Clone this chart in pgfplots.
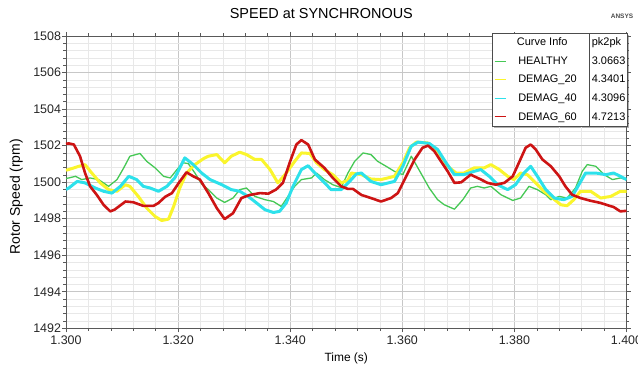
\documentclass[border=0pt]{standalone}
\usepackage{fontspec}
\setmainfont{Liberation Sans}
\usepackage{pgfplots}
\pgfplotsset{compat=1.18}
\usetikzlibrary{backgrounds}
\definecolor{cHealthy}{RGB}{70,200,85}
\definecolor{cDtwenty}{RGB}{250,245,45}
\definecolor{cDforty}{RGB}{45,225,235}
\definecolor{cDsixty}{RGB}{205,20,20}
\newcommand{\lsep}{{\color{black!70}\rule[-6.05bp]{0.6pt}{18.6bp}}}
\newcommand{\lrow}[2]{\makebox[71bp][l]{#1}\lsep\hspace{2bp}#2}
\begin{document}
\begin{tikzpicture}
\path[use as bounding box] (-66bp,-38.7bp) rectangle (572bp,328.3bp);
\begin{axis}[
  at={(0,0)}, anchor=south west,
  scale only axis, width=560.5bp, height=292.3bp,
  xmin=1.3, xmax=1.4, ymin=1492, ymax=1508,
  xtick={1.3,1.32,1.34,1.36,1.38,1.4},
  ytick={1492,1494,1496,1498,1500,1502,1504,1506,1508},
  minor x tick num=4, minor y tick num=4,
  grid=both,
  major grid style={color=black!22, line width=0.6bp},
  minor grid style={color=black!9, line width=0.5bp},
  tick align=outside, major tick length=4bp, minor tick length=2.5bp,
  axis line style={black!65, line width=0.8bp},
  every tick/.style={black!65, line width=0.6bp},
  tick label style={font=\fontsize{12.5}{14}\selectfont, color=black!85},
  /pgf/number format/assume math mode=true,
  yticklabel style={/pgf/number format/1000 sep={}, xshift=2.5bp},
  xticklabel style={/pgf/number format/.cd, fixed, fixed zerofill, precision=3},
  scaled x ticks=false, scaled y ticks=false,
  title={SPEED at SYNCHRONOUS},
  title style={at={(axis description cs:0.4556,1)}, anchor=base, yshift=11.8bp, font=\fontsize{14.5}{16}\selectfont},
  xlabel={Time (s)},
  xlabel style={at={(axis description cs:0.5,0)}, anchor=base, yshift=-33bp, font=\fontsize{12}{14}\selectfont},
  ylabel={Rotor Speed (rpm)},
  ylabel style={at={(axis description cs:-0.0821,0.45)}, anchor=base, font=\fontsize{14}{16}\selectfont},
  legend style={at={(axis description cs:1.001,1.0103)}, anchor=north east, name=leg,
    draw=black!70, fill=white, font=\fontsize{11}{13}\selectfont,
    inner xsep=1.5bp, inner ysep=0pt, row sep=0pt, column sep=12bp,
    cells={anchor=west},
    nodes={text height=10.5bp, text depth=4bp, inner ysep=2.05bp, inner xsep=0pt}},
  legend image code/.code={\draw[#1,line width=1.1bp] (0bp,0bp) -- (11bp,0bp);},
  clip=true,
]
\addlegendimage{empty legend}
\addlegendentry{\hspace*{-23bp}\makebox[94bp][c]{Curve Info}\lsep\hspace{2bp}pk2pk}

% HEALTHY
\addplot[color=cHealthy, line width=1.3bp, line join=round] coordinates {
(1.3000,1500.20)(1.3005,1500.23)(1.3017,1500.32)(1.3028,1500.14)(1.3043,1500.23)(1.3058,1500.14)
(1.3076,1499.77)(1.3091,1500.14)(1.3103,1500.78)(1.3114,1501.42)(1.3132,1501.57)(1.3144,1501.14)
(1.3159,1500.78)(1.3174,1500.32)(1.3186,1500.23)(1.3198,1500.69)(1.3209,1501.06)(1.3218,1501.02)
(1.3230,1500.50)(1.3242,1499.90)(1.3254,1499.59)(1.3269,1499.13)(1.3283,1498.89)(1.3298,1499.13)
(1.3310,1499.59)(1.3322,1499.68)(1.3337,1499.22)(1.3355,1499.04)(1.3370,1498.94)(1.3384,1498.67)
(1.3396,1499.22)(1.3408,1499.77)(1.3420,1500.14)(1.3438,1500.23)(1.3447,1500.50)(1.3461,1500.14)
(1.3476,1499.86)(1.3491,1499.70)(1.3503,1500.50)(1.3515,1501.14)(1.3530,1501.60)(1.3544,1501.51)
(1.3556,1501.14)(1.3571,1500.87)(1.3586,1500.59)(1.3601,1500.41)(1.3616,1501.42)(1.3633,1500.50)
(1.3648,1499.68)(1.3663,1499.04)(1.3675,1498.76)(1.3693,1498.52)(1.3708,1499.04)(1.3722,1499.68)
(1.3734,1499.77)(1.3746,1499.68)(1.3758,1499.77)(1.3776,1499.31)(1.3797,1499.00)(1.3811,1499.13)
(1.3826,1499.77)(1.3841,1499.59)(1.3856,1499.31)(1.3865,1499.04)(1.3880,1499.22)(1.3894,1499.13)
(1.3909,1499.68)(1.3921,1500.59)(1.3930,1500.96)(1.3945,1500.87)(1.3960,1500.41)(1.3975,1500.14)
(1.3989,1500.23)(1.4000,1500.14)
};
\addlegendentry{\lrow{HEALTHY}{3.0663}}

% DEMAG_20
\addplot[color=cDtwenty, line width=3bp, line join=round] coordinates {
(1.3000,1500.65)(1.3005,1500.69)(1.3020,1500.84)(1.3034,1500.96)(1.3046,1500.50)(1.3061,1499.96)
(1.3076,1499.59)(1.3091,1499.50)(1.3106,1499.86)(1.3114,1499.77)(1.3129,1499.22)(1.3144,1498.58)
(1.3159,1498.12)(1.3171,1497.90)(1.3183,1497.98)(1.3192,1498.67)(1.3203,1499.68)(1.3215,1500.50)
(1.3230,1500.96)(1.3245,1501.28)(1.3254,1501.42)(1.3269,1501.51)(1.3283,1501.06)(1.3295,1501.42)
(1.3310,1501.64)(1.3322,1501.51)(1.3337,1501.24)(1.3349,1501.24)(1.3364,1500.69)(1.3378,1499.96)
(1.3393,1500.50)(1.3408,1501.14)(1.3420,1501.60)(1.3435,1501.57)(1.3447,1501.06)(1.3461,1500.69)
(1.3476,1500.41)(1.3491,1499.96)(1.3503,1500.10)(1.3509,1500.50)(1.3527,1500.41)(1.3544,1500.17)
(1.3562,1500.14)(1.3586,1500.32)(1.3601,1501.06)(1.3613,1501.88)(1.3625,1502.19)(1.3645,1502.15)
(1.3663,1501.70)(1.3681,1500.87)(1.3696,1500.50)(1.3710,1500.50)(1.3728,1500.78)(1.3746,1500.78)
(1.3758,1500.96)(1.3773,1500.69)(1.3788,1500.32)(1.3799,1500.14)(1.3811,1500.50)(1.3823,1500.41)
(1.3838,1499.96)(1.3853,1499.50)(1.3868,1499.13)(1.3883,1498.76)(1.3894,1498.71)(1.3906,1499.04)
(1.3918,1499.50)(1.3936,1499.50)(1.3954,1499.13)(1.3972,1499.22)(1.3989,1499.50)(1.4000,1499.50)
};
\addlegendentry{\lrow{DEMAG\_20}{4.3401}}

% DEMAG_40
\addplot[color=cDforty, line width=3bp, line join=round] coordinates {
(1.3000,1499.60)(1.3005,1499.68)(1.3020,1500.04)(1.3034,1499.96)(1.3052,1499.68)(1.3067,1499.50)
(1.3082,1499.40)(1.3097,1499.77)(1.3112,1500.32)(1.3126,1500.14)(1.3138,1499.77)(1.3150,1499.68)
(1.3165,1499.50)(1.3180,1499.77)(1.3194,1500.23)(1.3212,1501.33)(1.3227,1500.96)(1.3242,1500.50)
(1.3257,1500.14)(1.3278,1499.86)(1.3295,1499.59)(1.3310,1499.50)(1.3325,1499.22)(1.3340,1498.86)
(1.3355,1498.49)(1.3370,1498.34)(1.3381,1498.40)(1.3393,1498.86)(1.3405,1499.77)(1.3420,1500.69)
(1.3432,1500.90)(1.3444,1500.50)(1.3459,1500.04)(1.3473,1499.59)(1.3491,1499.59)(1.3506,1500.04)
(1.3518,1500.45)(1.3527,1500.50)(1.3544,1500.04)(1.3562,1499.86)(1.3586,1500.04)(1.3601,1500.87)
(1.3616,1501.97)(1.3628,1502.19)(1.3648,1502.12)(1.3663,1501.79)(1.3678,1501.06)(1.3693,1500.41)
(1.3710,1500.41)(1.3728,1500.59)(1.3740,1500.69)(1.3755,1500.32)(1.3770,1499.86)(1.3788,1499.59)
(1.3802,1499.86)(1.3817,1500.50)(1.3829,1500.87)(1.3841,1500.32)(1.3856,1499.59)(1.3871,1499.13)
(1.3888,1499.04)(1.3903,1499.22)(1.3915,1499.86)(1.3927,1500.50)(1.3945,1500.50)(1.3963,1500.41)
(1.3977,1500.50)(1.3989,1500.32)(1.4000,1500.14)
};
\addlegendentry{\lrow{DEMAG\_40}{4.3096}}

% DEMAG_60
\addplot[color=cDsixty, line width=2.6bp, line join=round] coordinates {
(1.3000,1502.10)(1.3005,1502.12)(1.3014,1502.06)(1.3025,1501.42)(1.3034,1500.50)(1.3043,1499.77)
(1.3055,1499.30)(1.3067,1498.76)(1.3079,1498.40)(1.3087,1498.50)(1.3106,1498.94)(1.3120,1498.90)
(1.3138,1498.70)(1.3156,1498.70)(1.3165,1498.86)(1.3177,1499.20)(1.3189,1499.40)(1.3201,1499.95)
(1.3215,1500.54)(1.3227,1500.32)(1.3239,1500.14)(1.3254,1499.40)(1.3269,1498.58)(1.3283,1497.98)
(1.3298,1498.30)(1.3313,1499.13)(1.3328,1499.30)(1.3346,1499.40)(1.3361,1499.37)(1.3375,1499.60)
(1.3387,1499.96)(1.3399,1501.06)(1.3411,1502.06)(1.3420,1502.30)(1.3432,1502.06)(1.3444,1501.24)
(1.3461,1500.78)(1.3476,1500.23)(1.3491,1499.77)(1.3503,1499.63)(1.3512,1499.63)(1.3527,1499.30)
(1.3544,1499.13)(1.3562,1498.94)(1.3580,1499.13)(1.3592,1499.40)(1.3607,1500.32)(1.3622,1501.24)
(1.3636,1501.88)(1.3646,1502.00)(1.3657,1501.70)(1.3669,1501.14)(1.3681,1500.59)(1.3693,1499.96)
(1.3705,1499.99)(1.3722,1500.41)(1.3740,1500.15)(1.3752,1499.96)(1.3767,1499.86)(1.3782,1499.96)
(1.3797,1500.32)(1.3808,1501.06)(1.3820,1501.88)(1.3829,1502.06)(1.3838,1501.79)(1.3850,1501.24)
(1.3865,1500.87)(1.3880,1500.32)(1.3891,1499.77)(1.3903,1499.31)(1.3918,1499.13)(1.3936,1498.98)
(1.3954,1498.86)(1.3969,1498.71)(1.3977,1498.64)(1.3989,1498.40)(1.4000,1498.43)
};
\addlegendentry{\lrow{DEMAG\_60}{4.7213}}
\end{axis}
\begin{scope}[on background layer]
\fill[black!30] ([xshift=2bp,yshift=-2bp]leg.south west) rectangle ([xshift=2bp,yshift=-2bp]leg.north east);
\end{scope}
\node[anchor=center, font=\fontsize{6.5}{7}\selectfont\bfseries, text=black!70] at (556bp,312.3bp) {ANSYS};
\end{tikzpicture}
\end{document}
